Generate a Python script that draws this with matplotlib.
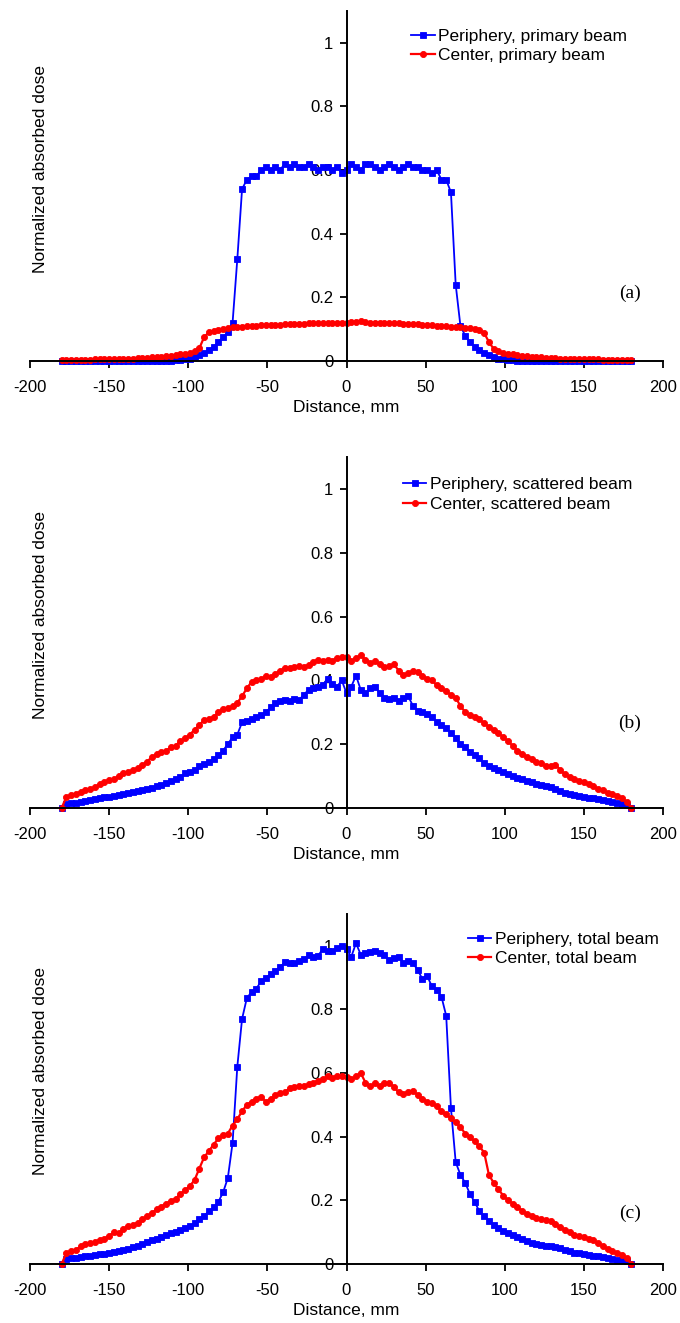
import numpy as np
import matplotlib
matplotlib.use("Agg")
from matplotlib import pyplot as plt

plt.rcParams['font.family'] = ['Liberation Sans', 'DejaVu Sans']
plt.rcParams['axes.unicode_minus'] = False

# distance positions, mm (one reading every 3 mm)
distance = np.arange(-180, 181, 3)

# (a) primary beam
periphery_primary = [
    0.0, 0.0, 0.0, 0.0, 0.0, 0.0, 0.0, 0.0, 0.0, 0.0,
    0.0, 0.0, 0.0, 0.0, 0.0, 0.0, 0.0, 0.0, 0.0, 0.0,
    0.0, 0.0, 0.001, 0.001, 0.002, 0.003, 0.005, 0.008, 0.012, 0.018,
    0.025, 0.035, 0.045, 0.06, 0.075, 0.09, 0.12, 0.32, 0.54, 0.57,
    0.58, 0.58, 0.60, 0.61, 0.60, 0.61, 0.60, 0.62, 0.61, 0.62,
    0.61, 0.61, 0.62, 0.61, 0.60, 0.61, 0.61, 0.60, 0.61, 0.59,
    0.60, 0.62, 0.61, 0.60, 0.62, 0.62, 0.61, 0.60, 0.61, 0.62,
    0.61, 0.60, 0.61, 0.62, 0.61, 0.61, 0.60, 0.60, 0.59, 0.60,
    0.57, 0.57, 0.53, 0.24, 0.11, 0.08, 0.06, 0.045, 0.035, 0.025,
    0.018, 0.012, 0.008, 0.005, 0.003, 0.002, 0.001, 0.001, 0.0, 0.0,
    0.0, 0.0, 0.0, 0.0, 0.0, 0.0, 0.0, 0.0, 0.0, 0.0,
    0.0, 0.0, 0.0, 0.0, 0.0, 0.0, 0.0, 0.0, 0.0, 0.0,
    0.0]
center_primary = [
    0.002, 0.002, 0.003, 0.003, 0.003, 0.004, 0.004, 0.005, 0.005, 0.005,
    0.006, 0.006, 0.007, 0.007, 0.008, 0.008, 0.009, 0.010, 0.011, 0.012,
    0.013, 0.014, 0.016, 0.017, 0.019, 0.021, 0.023, 0.026, 0.030, 0.040,
    0.075, 0.090, 0.095, 0.098, 0.100, 0.105, 0.107, 0.108, 0.108, 0.110,
    0.110, 0.111, 0.112, 0.112, 0.113, 0.114, 0.114, 0.115, 0.116, 0.116,
    0.117, 0.117, 0.118, 0.119, 0.118, 0.119, 0.120, 0.120, 0.120, 0.121,
    0.120, 0.122, 0.124, 0.126, 0.123, 0.121, 0.120, 0.121, 0.120, 0.120,
    0.119, 0.118, 0.117, 0.117, 0.116, 0.115, 0.114, 0.112, 0.112, 0.111,
    0.110, 0.109, 0.108, 0.107, 0.106, 0.105, 0.103, 0.100, 0.097, 0.088,
    0.060, 0.038, 0.030, 0.026, 0.023, 0.021, 0.019, 0.017, 0.015, 0.014,
    0.013, 0.012, 0.011, 0.010, 0.009, 0.008, 0.008, 0.007, 0.007, 0.006,
    0.006, 0.005, 0.005, 0.005, 0.004, 0.004, 0.003, 0.003, 0.003, 0.002,
    0.002]

# (b) scattered beam
periphery_scattered = [
    0.0, 0.012, 0.015, 0.017, 0.020, 0.023, 0.025, 0.028, 0.030, 0.033,
    0.035, 0.037, 0.040, 0.043, 0.046, 0.050, 0.052, 0.055, 0.058, 0.062,
    0.068, 0.072, 0.078, 0.085, 0.090, 0.098, 0.108, 0.112, 0.120, 0.130,
    0.138, 0.145, 0.152, 0.165, 0.180, 0.200, 0.222, 0.230, 0.268, 0.272,
    0.278, 0.285, 0.290, 0.300, 0.315, 0.330, 0.335, 0.338, 0.335, 0.342,
    0.338, 0.355, 0.370, 0.375, 0.380, 0.385, 0.405, 0.390, 0.380, 0.400,
    0.360, 0.380, 0.415, 0.370, 0.360, 0.375, 0.380, 0.360, 0.345, 0.340,
    0.345, 0.335, 0.345, 0.350, 0.320, 0.305, 0.300, 0.295, 0.285, 0.270,
    0.260, 0.250, 0.235, 0.220, 0.200, 0.190, 0.175, 0.165, 0.155, 0.140,
    0.130, 0.125, 0.118, 0.112, 0.105, 0.100, 0.095, 0.090, 0.085, 0.080,
    0.075, 0.072, 0.068, 0.065, 0.058, 0.052, 0.048, 0.045, 0.040, 0.037,
    0.035, 0.032, 0.030, 0.027, 0.025, 0.022, 0.018, 0.015, 0.012, 0.008,
    0.0]
center_scattered = [
    0.0, 0.035, 0.040, 0.045, 0.050, 0.057, 0.060, 0.065, 0.075, 0.080,
    0.088, 0.090, 0.100, 0.110, 0.112, 0.118, 0.125, 0.135, 0.145, 0.160,
    0.168, 0.175, 0.180, 0.190, 0.195, 0.210, 0.218, 0.230, 0.245, 0.260,
    0.275, 0.280, 0.285, 0.300, 0.310, 0.312, 0.318, 0.330, 0.350, 0.375,
    0.395, 0.400, 0.405, 0.412, 0.410, 0.420, 0.430, 0.438, 0.440, 0.442,
    0.445, 0.443, 0.448, 0.458, 0.465, 0.460, 0.465, 0.462, 0.470, 0.472,
    0.474, 0.460, 0.470, 0.478, 0.465, 0.455, 0.460, 0.450, 0.443, 0.445,
    0.450, 0.430, 0.418, 0.422, 0.430, 0.425, 0.415, 0.405, 0.400, 0.385,
    0.375, 0.365, 0.355, 0.345, 0.320, 0.300, 0.290, 0.285, 0.278, 0.265,
    0.255, 0.245, 0.235, 0.222, 0.210, 0.195, 0.180, 0.170, 0.160, 0.152,
    0.145, 0.140, 0.132, 0.130, 0.135, 0.120, 0.105, 0.097, 0.090, 0.085,
    0.082, 0.075, 0.068, 0.060, 0.055, 0.048, 0.043, 0.037, 0.030, 0.020,
    0.0]

# (c) total beam
periphery_total = [
    0.0, 0.015, 0.018, 0.020, 0.022, 0.024, 0.026, 0.028, 0.030, 0.032,
    0.034, 0.037, 0.040, 0.043, 0.048, 0.052, 0.058, 0.064, 0.068, 0.074,
    0.078, 0.084, 0.090, 0.097, 0.102, 0.108, 0.112, 0.118, 0.128, 0.140,
    0.152, 0.165, 0.178, 0.195, 0.225, 0.270, 0.380, 0.620, 0.770, 0.835,
    0.855, 0.865, 0.888, 0.900, 0.910, 0.922, 0.932, 0.948, 0.946, 0.945,
    0.952, 0.958, 0.970, 0.966, 0.968, 0.990, 0.982, 0.985, 0.993, 0.998,
    0.990, 0.965, 1.008, 0.972, 0.976, 0.980, 0.985, 0.976, 0.972, 0.955,
    0.962, 0.966, 0.946, 0.952, 0.945, 0.924, 0.895, 0.905, 0.872, 0.862,
    0.840, 0.780, 0.490, 0.320, 0.280, 0.255, 0.220, 0.195, 0.165, 0.150,
    0.135, 0.122, 0.113, 0.105, 0.097, 0.090, 0.085, 0.080, 0.072, 0.066,
    0.063, 0.060, 0.058, 0.056, 0.054, 0.050, 0.045, 0.040, 0.036, 0.033,
    0.030, 0.028, 0.026, 0.024, 0.022, 0.020, 0.017, 0.014, 0.012, 0.008,
    0.0]
center_total = [
    0.0, 0.035, 0.040, 0.045, 0.055, 0.062, 0.065, 0.070, 0.075, 0.080,
    0.088, 0.100, 0.098, 0.110, 0.120, 0.122, 0.130, 0.140, 0.150, 0.160,
    0.172, 0.180, 0.190, 0.198, 0.205, 0.220, 0.232, 0.245, 0.264, 0.300,
    0.335, 0.355, 0.375, 0.395, 0.405, 0.410, 0.435, 0.455, 0.480, 0.500,
    0.510, 0.520, 0.525, 0.510, 0.518, 0.530, 0.538, 0.540, 0.552, 0.555,
    0.560, 0.558, 0.565, 0.570, 0.575, 0.580, 0.590, 0.585, 0.592, 0.590,
    0.588, 0.580, 0.590, 0.600, 0.570, 0.558, 0.568, 0.560, 0.568, 0.570,
    0.555, 0.540, 0.535, 0.542, 0.545, 0.530, 0.520, 0.510, 0.505, 0.495,
    0.480, 0.470, 0.458, 0.445, 0.430, 0.410, 0.398, 0.385, 0.370, 0.350,
    0.280, 0.255, 0.235, 0.215, 0.200, 0.190, 0.178, 0.168, 0.158, 0.150,
    0.145, 0.140, 0.138, 0.135, 0.125, 0.115, 0.108, 0.100, 0.092, 0.088,
    0.085, 0.078, 0.075, 0.065, 0.055, 0.048, 0.040, 0.035, 0.028, 0.020,
    0.0]

xticks = [-200, -150, -100, -50, 0, 50, 100, 150, 200]
xticklabels = ["-200", "-150", "-100", "-50", "0", "50", "100", "150", "200"]
yticks = [0, 0.2, 0.4, 0.6, 0.8, 1.0]
yticklabels = ["0", "0.2", "0.4", "0.6", "0.8", "1"]

fig = plt.figure(figsize=(6.8, 13.23), dpi=100)


def draw_panel(rect, blue, red, blue_label, red_label, tag, tag_y, leg_x, leg_y):
    ax = fig.add_axes(rect)
    ax.plot(distance, blue, color="blue", marker="s", markersize=4.4, mew=0.6,
            linewidth=1.3, label=blue_label, clip_on=False)
    ax.plot(distance, red, color="red", marker="o", markersize=4.4, mew=0.6,
            linewidth=1.6, label=red_label, clip_on=False)
    ax.set_xlim(-200, 200)
    ax.set_ylim(0, 1.1)
    ax.set_xticks(xticks)
    ax.set_xticklabels(xticklabels)
    ax.set_yticks(yticks)
    ax.set_yticklabels(yticklabels)
    ax.spines['left'].set_position(('data', 0))
    ax.spines['top'].set_visible(False)
    ax.spines['right'].set_visible(False)
    ax.spines['left'].set_linewidth(1.4)
    ax.spines['bottom'].set_linewidth(1.4)
    ax.tick_params(direction="out", length=5, width=1.3, labelsize=12)
    ax.tick_params(axis="x", pad=8.5)
    ax.tick_params(axis="y", pad=4.5)
    ax.set_xlabel("Distance, mm", fontsize=12.5, labelpad=4)
    ax.set_ylabel("Normalized absorbed dose", fontsize=12.5)
    ax.yaxis.set_label_coords(0.028, 0.55)
    ax.legend(loc="upper left", bbox_to_anchor=(leg_x, leg_y), frameon=False,
              fontsize=12.5, handlelength=1.35, handletextpad=0.2,
              labelspacing=0.25, borderpad=0, borderaxespad=0, numpoints=1)
    ax.text(179, tag_y, tag, family=["Liberation Serif", "DejaVu Serif"],
            fontsize=14, ha="center", va="center")
    return ax


left = 30 / 680
width = 633 / 680
draw_panel([left, 0.7271, width, 0.2646], periphery_primary, center_primary,
           "Periphery, primary beam", "Center, primary beam", "(a)", 0.213, 0.602, 0.949)
draw_panel([left, 0.3893, width, 0.2653], periphery_scattered, center_scattered,
           "Periphery, scattered beam", "Center, scattered beam", "(b)", 0.266, 0.589, 0.943)
draw_panel([left, 0.0446, width, 0.2646], periphery_total, center_total,
           "Periphery, total beam", "Center, total beam", "(c)", 0.16, 0.692, 0.949)

fig.savefig("out.png", dpi=100)
